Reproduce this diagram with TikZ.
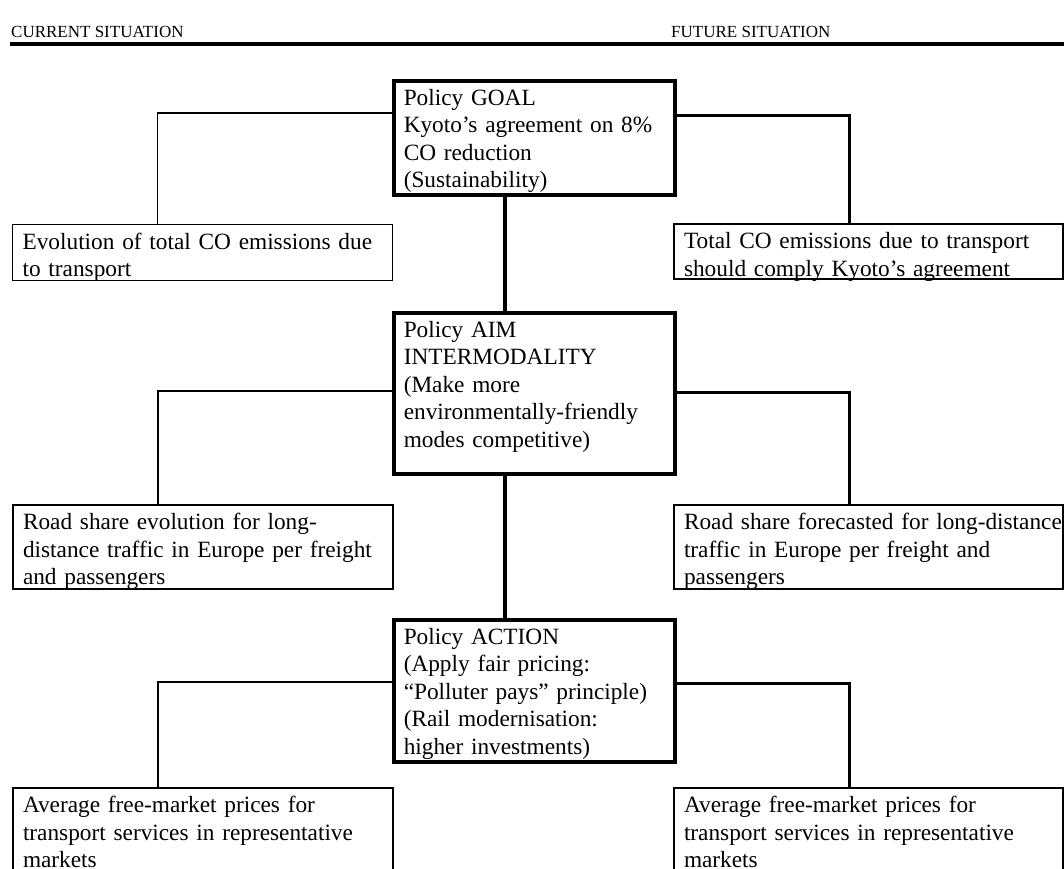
\documentclass[tikz,border=0pt]{standalone}
\usepackage{fontspec}
\setmainfont{Liberation Serif}
\usetikzlibrary{calc}
\hyphenpenalty=10000
\exhyphenpenalty=10000
\begin{document}
\begin{tikzpicture}[x=1pt,y=-1pt,
  cell/.style={draw, rectangle, anchor=north west, inner xsep=10pt, inner ysep=2.5pt,
    align=left, text height=22pt, font=\fontsize{23.3pt}{27.5pt}\selectfont},
  centrebox/.style={cell, line width=3.5pt, text width=261pt},
  leftbox/.style={cell, line width=2pt, text width=360pt},
  rightbox/.style={cell, line width=2pt, text width=369pt},
  lconn/.style={line width=1.2pt},
  rconn/.style={line width=3pt},
  cconn/.style={line width=3.5pt},
  head/.style={anchor=base west, inner sep=0pt, font=\fontsize{17pt}{20pt}\selectfont}
]
\useasboundingbox (0,0) rectangle (1064,868);

% header
\node[head] (cur) at (11,37) {CURRENT SITUATION};
\node[head] (fut) at (671,37) {FUTURE SITUATION};
\draw[line width=4pt] (10,44) -- (1064,44);

% centre column
\node[centrebox, text depth=87pt] (goal) at (392,79)
  {Policy GOAL\\Kyoto’s agreement on 8\%\\CO reduction\\(Sustainability)};
\node[centrebox, text depth=134pt] (aim) at (392,311)
  {Policy AIM\\INTERMODALITY\\(Make more\\environmentally-friendly\\modes competitive)};
\node[centrebox, text depth=115pt] (action) at (392,618)
  {Policy ACTION\\(Apply fair pricing:\\“Polluter pays” principle)\\(Rail modernisation:\\higher investments)};

% left column
\node[leftbox, line width=1.2pt, text depth=29pt] (L1) at (12,224)
  {Evolution of total CO emissions due\\to transport};
\node[leftbox, text depth=57pt] (L2) at (12,504)
  {Road share evolution for long-\\\mbox{distance traffic in Europe per freight}\\and passengers};
\node[leftbox, text depth=95pt] (L3) at (12,787)
  {Average free-market prices for\\\mbox{transport services in representative}\\markets};

% right column
\node[rightbox, text depth=28pt] (R1) at (673,223)
  {\mbox{Total CO emissions due to transport}\\\mbox{should comply Kyoto’s agreement}};
\node[rightbox, text depth=57pt] (R2) at (673,504)
  {\mbox{Road share forecasted for long-distance}\\\mbox{traffic in Europe per freight and}\\passengers};
\node[rightbox, text depth=95pt] (R3) at (673,787)
  {Average free-market prices for\\\mbox{transport services in representative}\\markets};

% centre connectors
\draw[cconn] ([xshift=-29.5pt]goal.south) -- ([xshift=-29.5pt]aim.north);
\draw[cconn] ([xshift=-29.5pt]aim.south) -- ([xshift=-29.5pt]action.north);

% left connectors
\draw[lconn] ([yshift=-34pt]goal.north west) -| ([xshift=-45pt]L1.north);
\draw[lconn] ([yshift=-80pt]aim.north west) -| ([xshift=-45pt]L2.north);
\draw[lconn] ([yshift=-64pt]action.north west) -| ([xshift=-45pt]L3.north);

% right connectors
\draw[rconn] ([yshift=-36pt]goal.north east) -| ([xshift=-19.5pt]R1.north);
\draw[rconn] ([yshift=-81pt]aim.north east) -| ([xshift=-19.5pt]R2.north);
\draw[rconn] ([yshift=-65pt]action.north east) -| ([xshift=-19.5pt]R3.north);
\end{tikzpicture}
\end{document}
